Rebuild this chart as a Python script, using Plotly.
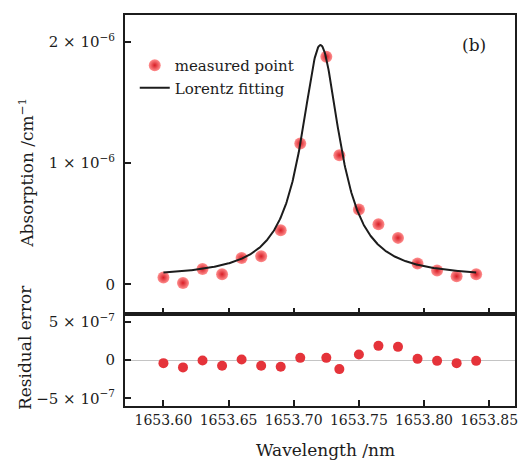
import numpy as np
import plotly.graph_objects as go

# Measured absorption spectrum around 1653.72 nm
wavelength_nm = [1653.600, 1653.615, 1653.630, 1653.645, 1653.660, 1653.675,
                 1653.690, 1653.705, 1653.725, 1653.735, 1653.750, 1653.765,
                 1653.780, 1653.795, 1653.810, 1653.825, 1653.840]
absorption_e6 = [0.055, 0.011, 0.126, 0.083, 0.217, 0.231, 0.446, 1.163, 1.879,
                 1.066, 0.617, 0.496, 0.383, 0.171, 0.113, 0.066, 0.083]
residual_e7 = [-0.39, -0.95, -0.04, -0.74, 0.09, -0.74, -0.87, 0.30, 0.30,
               -1.17, 0.74, 1.87, 1.74, 0.17, -0.09, -0.39, -0.09]

# Lorentz fit parameters
fit_center_nm = 1653.7205
fit_hwhm_nm = 0.018
fit_offset_e6 = 0.055
fit_peak_e6 = 1.975

x_ticks = [1653.60, 1653.65, 1653.70, 1653.75, 1653.80, 1653.85]
x_ticklabels = ["1653.60", "1653.65", "1653.70", "1653.75", "1653.80", "1653.85"]
y_ticks = [0, 1e-6, 2e-6]
y_ticklabels = ["0", "1 × 10<sup>−6</sup>", "2 × 10<sup>−6</sup>"]
r_ticks = [-5e-7, 0, 5e-7]
r_ticklabels = ["−5 × 10<sup>−7</sup>", "0", "5 × 10<sup>−7</sup>"]

absorption = [v * 1e-6 for v in absorption_e6]
residual = [v * 1e-7 for v in residual_e7]

fit_x = np.linspace(wavelength_nm[0], wavelength_nm[-1], 600)
fit_y = (fit_offset_e6 + (fit_peak_e6 - fit_offset_e6)
         / (1 + ((fit_x - fit_center_nm) / fit_hwhm_nm) ** 2)) * 1e-6

FONT = "DejaVu Serif"
INK = "#1c1c1c"
RED = "#e5333a"

fig = go.Figure()
fig.add_trace(go.Scatter(
    x=wavelength_nm, y=absorption, mode="markers", name="measured point",
    marker=dict(size=12, color="#ff8f8f",
                gradient=dict(type="radial", color="#d81e26"),
                line=dict(width=0)),
    xaxis="x", yaxis="y"))
fig.add_trace(go.Scatter(
    x=fit_x, y=fit_y, mode="lines", name="Lorentz fitting",
    line=dict(color=INK, width=2), xaxis="x", yaxis="y"))
fig.add_trace(go.Scatter(
    x=wavelength_nm, y=residual, mode="markers", showlegend=False,
    marker=dict(size=10, color=RED, line=dict(width=0)),
    xaxis="x2", yaxis="y2"))

split = 0.2345
x_range = [1653.5705, 1653.8698]
axis_common = dict(showline=True, linecolor=INK, linewidth=2, mirror=True,
                   ticks="inside", ticklen=6, tickwidth=1.5, tickcolor=INK,
                   showgrid=False)
tick_font = dict(family=FONT, size=15, color=INK)

fig.update_layout(
    width=521, height=460,
    margin=dict(l=125, r=3, t=15, b=54),
    paper_bgcolor="white", plot_bgcolor="white",
    font=dict(family=FONT, color=INK),
    xaxis=dict(domain=[0, 1], anchor="y", range=x_range, tickvals=x_ticks,
               showticklabels=False, zeroline=False, **axis_common),
    yaxis=dict(domain=[split, 1], anchor="x", range=[-0.248e-6, 2.223e-6],
               tickvals=y_ticks, ticktext=y_ticklabels, zeroline=False,
               ticklabelstandoff=5, tickfont=tick_font, **axis_common),
    xaxis2=dict(domain=[0, 1], anchor="y2", range=x_range, tickvals=x_ticks,
                ticktext=x_ticklabels, zeroline=False,
                ticklabeloverflow="allow",
                tickfont=dict(family=FONT, size=14, color=INK), **axis_common),
    yaxis2=dict(domain=[0, split], anchor="x2", range=[-6e-7, 6e-7],
                tickvals=r_ticks, ticktext=r_ticklabels, zeroline=True,
                zerolinecolor="#c4c4c4", zerolinewidth=1,
                ticklabelstandoff=5, tickfont=tick_font, **axis_common),
    legend=dict(x=0.025, y=0.913, xanchor="left", yanchor="top",
                bgcolor="rgba(0,0,0,0)", tracegroupgap=0,
                font=dict(family=FONT, size=15, color=INK)),
    annotations=[
        dict(text="Absorption /cm<sup>−1</sup>", textangle=-90,
             xref="paper", yref="paper", x=-0.2545, y=0.596,
             xanchor="center", yanchor="middle", showarrow=False,
             font=dict(family=FONT, size=17, color=INK)),
        dict(text="Residual error", textangle=-90,
             xref="paper", yref="paper", x=-0.2545, y=0.150,
             xanchor="center", yanchor="middle", showarrow=False,
             font=dict(family=FONT, size=17, color=INK)),
        dict(text="Wavelength /nm", xref="paper", yref="paper",
             x=0.515, y=-0.113, xanchor="center", yanchor="middle",
             showarrow=False, font=dict(family=FONT, size=17, color=INK)),
        dict(text="(b)", xref="paper", yref="paper",
             x=0.895, y=0.923, xanchor="center", yanchor="middle",
             showarrow=False, font=dict(family=FONT, size=17, color=INK)),
    ],
)

fig.write_html("out.html")
